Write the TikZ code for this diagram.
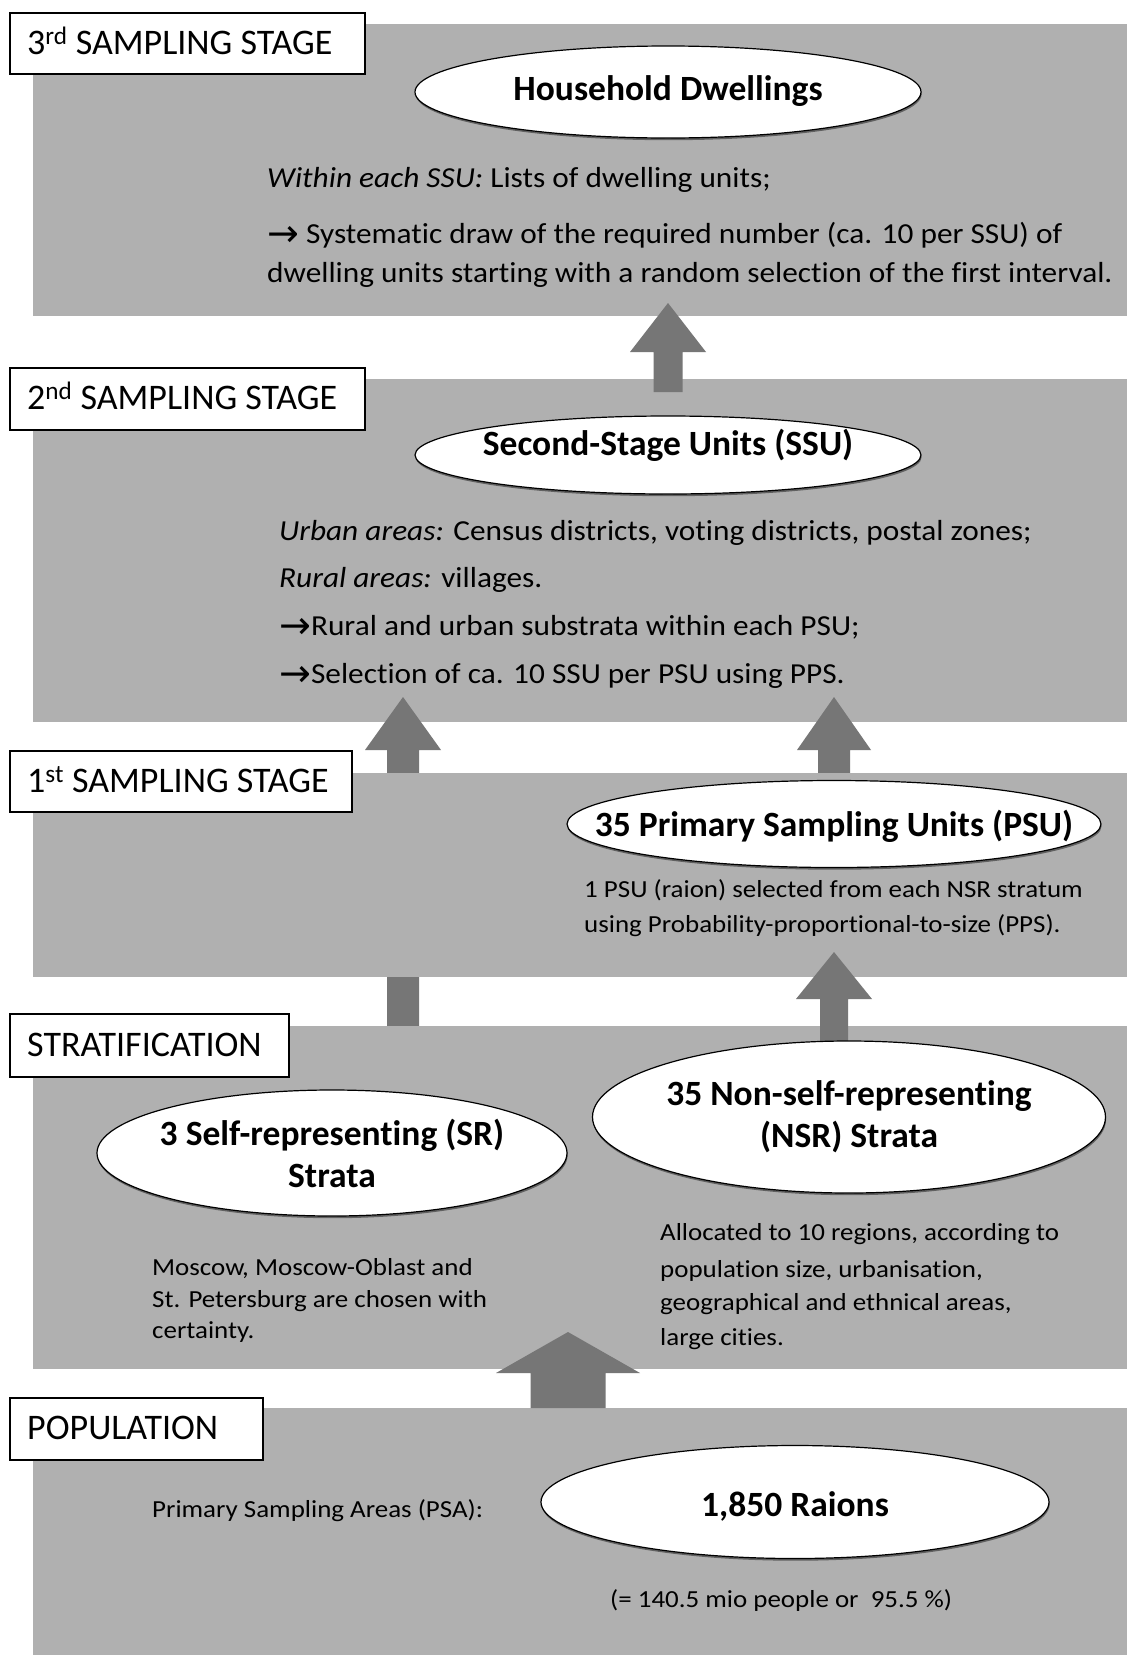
\documentclass[tikz,border=0pt]{standalone}
\usepackage{fontspec}
\setmainfont{Carlito}[RawFeature={-liga;-clig;-calt;-dlig}]
\newfontfamily\symfont{DejaVu Sans}
\newfontfamily\bodyfont[FakeStretch=1.08,RawFeature={-liga;-clig;-calt;-dlig}]{Carlito}
\newfontfamily\smallfont[FakeStretch=1.10,RawFeature={-liga;-clig;-calt;-dlig}]{Carlito}
\usetikzlibrary{shapes.geometric,shadows}
\definecolor{panelgray}{RGB}{176,176,176}
\definecolor{arrowgray}{RGB}{118,118,118}
\newcommand\blockarrow[6]{% x, tip y, head-base y, tail y, shaft half width, head half width
  \fill[arrowgray] (#1,#2) -- (#1+#6,#3) -- (#1+#5,#3) -- (#1+#5,#4) -- (#1-#5,#4) -- (#1-#5,#3) -- (#1-#6,#3) -- cycle;}
\newcommand\rarr{\raisebox{-3pt}{\symfont\fontsize{38}{38}\selectfont →}}
\begin{document}
\begin{tikzpicture}[x=1pt,y=-1pt,
  panel/.style={fill=panelgray},
  labelbox/.style={draw=black, line width=1.8pt, fill=white, anchor=north west, inner sep=0pt},
  labeltext/.style={anchor=base west, inner sep=0pt, font=\fontsize{36}{40}\selectfont},
  ell/.style={ellipse, draw=black, line width=1.2pt, fill=white, inner sep=0pt,
    drop shadow={shadow xshift=0.6pt, shadow yshift=-2.2pt, fill=black, opacity=0.45}},
  elltext/.style={align=center, inner sep=0pt, font=\bfseries\fontsize{35.5}{42}\selectfont},
  bodytext/.style={anchor=base west, inner sep=0pt, font=\bodyfont\fontsize{29}{32}\selectfont},
  smalltext/.style={anchor=base west, inner sep=0pt, font=\smallfont\fontsize{24.5}{28}\selectfont}]
\useasboundingbox (0,0) rectangle (1127,1655);
\fill[white] (0,0) rectangle (1127,1655);

% panels 3 and 2
\fill[panel] (33,24) rectangle (1127,316);
\fill[panel] (33,379) rectangle (1127,722);

% arrows drawn over panels 3/2
\blockarrow{668}{303}{352}{392}{14.5}{38}
\blockarrow{403}{697}{750}{1030}{16}{38}
\blockarrow{834}{697}{750}{800}{16}{37}

% panel 1, stratification, population
\fill[panel] (33,773) rectangle (1127,977);
\fill[panel] (33,1026) rectangle (1127,1369);
\fill[panel] (33,1408) rectangle (1127,1655);

\blockarrow{834}{952}{999}{1060}{14}{38}
\blockarrow{568}{1332}{1373}{1408}{37.5}{72}

% ellipses
\node[ell, minimum width=506, minimum height=92] (hd) at (668,92) {};
\node[elltext] (hdt) at (668,91) {Household Dwellings};
\node[ell, minimum width=506, minimum height=78] (ssu) at (668,455) {};
\node[elltext] (ssut) at (668,445) {Second-Stage Units (SSU)};
\node[ell, minimum width=534, minimum height=87] (psu) at (834,824) {};
\node[elltext] (psut) at (834,826) {35 Primary Sampling Units (PSU)};
\node[ell, minimum width=470, minimum height=126] (sr) at (332,1153) {};
\node[elltext] (srt) at (sr) {3 Self-representing (SR)\\Strata};
\node[ell, minimum width=513, minimum height=152] (nsr) at (849,1117) {};
\node[elltext] (nsrt) at (nsr) {35 Non-self-representing\\(NSR) Strata};
\node[ell, minimum width=508, minimum height=113] (rai) at (795,1502) {};
\node[elltext] (rait) at (795,1506) {1,850 Raions};

% label boxes
\node[labelbox, minimum width=355, minimum height=61] (l3) at (9,12) {};
\node[labeltext] (l3t) at (27,54) {3\textsuperscript{rd} SAMPLING STAGE};
\node[labelbox, minimum width=355, minimum height=62] (l2) at (9,367) {};
\node[labeltext] (l2t) at (27,409) {2\textsuperscript{nd} SAMPLING STAGE};
\node[labelbox, minimum width=342, minimum height=61] (l1) at (9,750) {};
\node[labeltext] (l1t) at (27,792) {1\textsuperscript{st} SAMPLING STAGE};
\node[labelbox, minimum width=279, minimum height=63] (ls) at (9,1013) {};
\node[labeltext] (lst) at (27,1056) {STRATIFICATION};
\node[labelbox, minimum width=253, minimum height=62] (lp) at (9,1397) {};
\node[labeltext] (lpt) at (27,1439) {POPULATION};

% texts: 3rd stage
\node[bodytext] (t31) at (267,187) {\textit{Within each SSU:} Lists of dwelling units;};
\node[bodytext] (t32) at (267,243) {\rarr\ Systematic draw of the required number (ca. 10 per SSU) of};
\node[bodytext] (t33) at (267,282) {dwelling units starting with a random selection of the first interval.};

% texts: 2nd stage
\node[bodytext] (t21) at (279,540) {\textit{Urban areas:} Census districts, voting districts, postal zones;};
\node[bodytext] (t22) at (279,587) {\textit{Rural areas:} villages.};
\node[bodytext] (t23) at (279,635) {\rarr Rural and urban substrata within each PSU;};
\node[bodytext] (t24) at (279,683) {\rarr Selection of ca. 10 SSU per PSU using PPS.};

% texts: 1st stage
\node[smalltext] (t11) at (584,897) {1 PSU (raion) selected from each NSR stratum};
\node[smalltext] (t12) at (584,932) {using Probability-proportional-to-size (PPS).};

% texts: stratification
\node[smalltext] (s1) at (152,1275) {Moscow, Moscow-Oblast and};
\node[smalltext] (s2) at (152,1307) {St. Petersburg are chosen with};
\node[smalltext] (s3) at (152,1338) {certainty.};
\node[smalltext] (n1) at (660,1240) {Allocated to 10 regions, according to};
\node[smalltext] (n2) at (660,1277) {population size, urbanisation,};
\node[smalltext] (n3) at (660,1310) {geographical and ethnical areas,};
\node[smalltext] (n4) at (660,1345) {large cities.};

% texts: population
\node[smalltext] (p1) at (152,1517) {Primary Sampling Areas (PSA):};
\node[smalltext] (p2) at (610,1607) {(= 140.5 mio people or\ \ 95.5 \%)};
\end{tikzpicture}
\end{document}
